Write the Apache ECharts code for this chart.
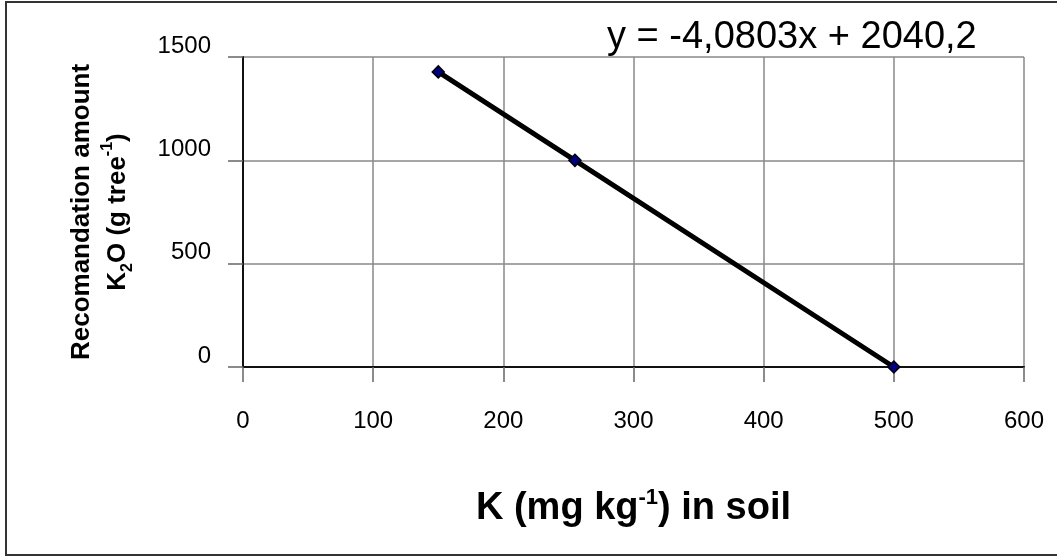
<!doctype html>
<html>
    <head>
        <meta charset="utf-8">
        <title>K2O recommendation vs soil K</title>
        <style>
            html, body { margin: 0; padding: 0; background: #fff; }
            #main { width: 1057px; height: 557px; }
        </style>
    </head>
    <body>
        <div id="main"></div>
        <script src="https://cdn.jsdelivr.net/npm/echarts@6/dist/echarts.min.js"></script>
        <script>
            // values
            var soilK = [150, 255, 500];
            var k2oAmount = [1428, 1000, 0];
            var xTicks = [0, 100, 200, 300, 400, 500, 600];
            var yTicks = [0, 500, 1000, 1500];
            var equation = 'y = -4,0803x + 2040,2';

            var chart = echarts.init(document.getElementById('main'), null, {
                devicePixelRatio: 1
            });

            var points = soilK.map(function (k, i) {
                return [k, k2oAmount[i]];
            });

            var font = 'Arial, "Liberation Sans", sans-serif';

            chart.setOption({
                backgroundColor: '#fff',
                animation: false,
                grid: {
                    left: 243,
                    right: 33,
                    top: 57,
                    bottom: 190
                },
                xAxis: {
                    type: 'value',
                    min: xTicks[0],
                    max: xTicks[xTicks.length - 1],
                    interval: 100,
                    axisLine: { show: true, onZero: false, lineStyle: { color: '#111', width: 2 } },
                    axisTick: { show: true, length: 15, lineStyle: { color: '#666', width: 1.5 } },
                    splitLine: { show: true, lineStyle: { color: '#888', width: 1.5 } },
                    axisLabel: {
                        color: '#000', fontSize: 24, fontFamily: font, margin: 42,
                        formatter: function (v) { return String(v); }
                    },
                    name: 'K (mg kg{sup|-1}) in soil',
                    nameLocation: 'middle',
                    nameGap: 120,
                    nameTextStyle: {
                        color: '#000',
                        fontSize: 38,
                        fontWeight: 'bold',
                        fontFamily: font,
                        lineHeight: 44,
                        rich: {
                            sup: { fontSize: 22, fontWeight: 'bold', fontFamily: font, verticalAlign: 'top', lineHeight: 44, color: '#000' }
                        }
                    }
                },
                yAxis: {
                    type: 'value',
                    min: yTicks[0],
                    max: yTicks[yTicks.length - 1],
                    interval: 500,
                    axisLine: { show: true, lineStyle: { color: '#111', width: 2 } },
                    axisTick: { show: true, length: 15, lineStyle: { color: '#666', width: 1.5 } },
                    splitLine: { show: true, lineStyle: { color: '#888', width: 1.5 } },
                    axisLabel: {
                        color: '#000', fontSize: 24, fontFamily: font, margin: 32,
                        verticalAlign: 'bottom',
                        lineHeight: 22,
                        formatter: function (v) { return String(v); }
                    },
                    name: 'Recomandation amount\nK{sub|2}O (g tree{sup|-1})',
                    nameLocation: 'middle',
                    nameRotate: 90,
                    nameGap: 107,
                    nameTextStyle: {
                        color: '#000',
                        fontSize: 26,
                        fontWeight: 'bold',
                        fontFamily: font,
                        lineHeight: 36,
                        align: 'center',
                        rich: {
                            sub: { fontSize: 16, fontWeight: 'bold', fontFamily: font, verticalAlign: 'bottom', lineHeight: 30, color: '#000' },
                            sup: { fontSize: 16, fontWeight: 'bold', fontFamily: font, verticalAlign: 'top', lineHeight: 36, color: '#000' }
                        }
                    }
                },
                graphic: [
                    {
                        type: 'rect',
                        shape: { x: 6, y: 2, width: 1060, height: 553 },
                        style: { fill: 'none', stroke: '#333', lineWidth: 2 },
                        silent: true
                    },
                    {
                        type: 'text',
                        x: 607,
                        y: 38,
                        style: {
                            text: equation,
                            fill: '#000',
                            font: '38px ' + font,
                            textVerticalAlign: 'middle'
                        }
                    }
                ],
                series: [{
                    type: 'line',
                    data: points,
                    symbol: 'diamond',
                    symbolSize: 12,
                    showAllSymbol: true,
                    lineStyle: { color: '#000', width: 5 },
                    itemStyle: { color: '#000080', borderColor: '#000', borderWidth: 1.5 },
                    z: 3
                }]
            });

            window.onresize = chart.resize;
        </script>
    </body>
</html>
